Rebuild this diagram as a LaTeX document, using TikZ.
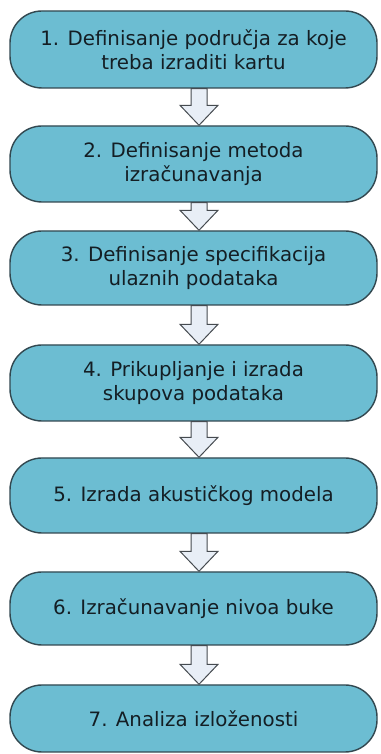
\documentclass[tikz,border=0pt]{standalone}
\usepackage{fontspec}
\setmainfont{DejaVu Sans}
\usetikzlibrary{calc}
\definecolor{boxfill}{RGB}{108,189,210}
\definecolor{boxline}{RGB}{50,72,80}
\definecolor{arrfill}{RGB}{232,238,246}
\definecolor{arrline}{RGB}{70,75,80}
\definecolor{txt}{RGB}{20,30,36}
\tikzset{
  stepbox/.style={draw=boxline, line width=1.4pt, fill=boxfill, rounded corners=32pt,
    minimum width=367pt, inner sep=0pt, align=center, text=txt,
    font=\fontsize{19.8}{24}\selectfont},
  blockarrow/.style={draw=arrline, line width=1pt, fill=arrfill, line join=miter}
}
\newcommand\blockarr[2]{%
  \draw[blockarrow] let \p1=(#1.south), \p2=(#2.north) in
    (191pt,\y1) -- (191pt,{\y2+20pt}) -- (180pt,{\y2+20pt}) -- (199pt,\y2)
    -- (218pt,{\y2+20pt}) -- (207pt,{\y2+20pt}) -- (207pt,\y1) -- cycle;}
\begin{document}
\begin{tikzpicture}
\useasboundingbox (0,0) rectangle (380pt,754pt);
\fill[white] (0,0) rectangle (380pt,754pt);
\node[stepbox, minimum height=77pt] (s1) at (193.5pt,704.5pt) {1. Definisanje područja za koje\\treba izraditi kartu};
\node[stepbox, minimum height=76pt] (s2) at (193.5pt,590pt) {2. Definisanje metoda\\izračunavanja};
\node[stepbox, minimum height=74pt] (s3) at (193.5pt,486pt) {3. Definisanje specifikacija\\ulaznih podataka};
\node[stepbox, minimum height=76pt] (s4) at (193.5pt,371pt) {4. Prikupljanje i izrada\\skupova podataka};
\node[stepbox, minimum height=75pt] (s5) at (193.5pt,258.5pt) {5. Izrada akustičkog modela};
\node[stepbox, minimum height=73pt] (s6) at (193.5pt,145.5pt) {6. Izračunavanje nivoa buke};
\node[stepbox, minimum height=67pt] (s7) at (193.5pt,35.5pt) {7. Analiza izloženosti};
\blockarr{s1}{s2}
\blockarr{s2}{s3}
\blockarr{s3}{s4}
\blockarr{s4}{s5}
\blockarr{s5}{s6}
\blockarr{s6}{s7}
\end{tikzpicture}
\end{document}
